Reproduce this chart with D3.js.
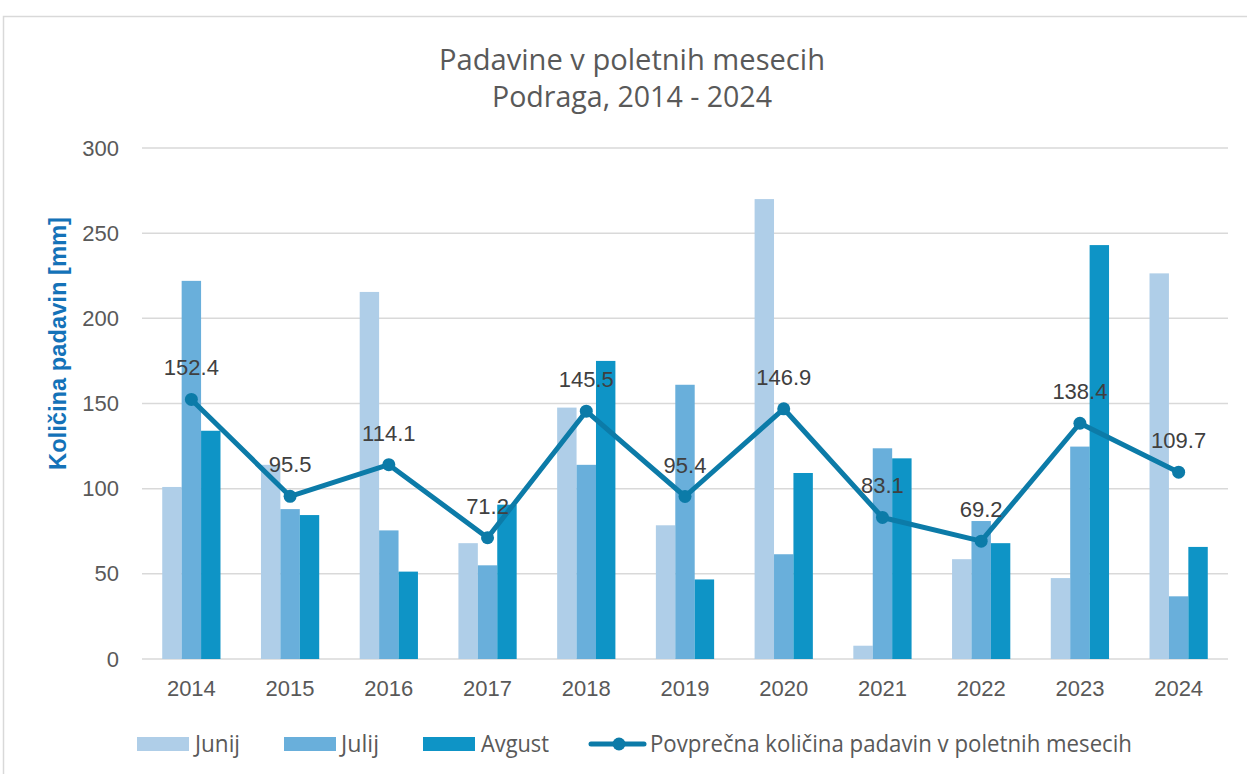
<!DOCTYPE html>
<html>
<head>
<meta charset="utf-8">
<script src="https://cdn.jsdelivr.net/npm/d3@7"></script>
<style>
  body { margin: 0; background: #fff; }
  svg { display: block; }
</style>
</head>
<body>
<div id="graph"></div>
<script>
// podatki
var years = ["2014", "2015", "2016", "2017", "2018", "2019", "2020", "2021", "2022", "2023", "2024"];
var junij = [101, 114, 215.5, 68, 147.6, 78.5, 270, 7.8, 58.6, 47.5, 226.4];
var julij = [222, 88, 75.5, 55, 114, 161, 61.5, 123.7, 81, 124.7, 36.8];
var avgust = [134, 84.5, 51.3, 90.6, 175, 46.7, 109.2, 117.8, 68, 243, 65.8];
var povprecje = [152.4, 95.5, 114.1, 71.2, 145.5, 95.4, 146.9, 83.1, 69.2, 138.4, 109.7];
var yTicks = [0, 50, 100, 150, 200, 250, 300];
var seriesNames = ["Junij", "Julij", "Avgust"];
var lineName = "Povprečna količina padavin v poletnih mesecih";

var colors = ["#afcee8", "#69afdb", "#0e94c6"];
var lineColor = "#0c7ba8";
var textColor = "#595959";
var axisFont = "'Liberation Sans', Arial, sans-serif";
var softFont = "'Open Sans', 'Noto Sans', sans-serif";

var svgWidth = 1247, svgHeight = 774;
var margin = { top: 148, right: 19, bottom: 115, left: 142 };
var width = svgWidth - margin.left - margin.right;
var height = svgHeight - margin.top - margin.bottom;

var svg = d3.select("#graph")
  .append("svg")
    .attr("width", svgWidth)
    .attr("height", svgHeight);

// okvir
svg.append("rect")
  .attr("x", 3.5).attr("y", 16.5)
  .attr("width", svgWidth + 10).attr("height", svgHeight)
  .attr("fill", "none")
  .attr("stroke", "#d9d9d9")
  .attr("stroke-width", 1.5);

// naslov
var title = svg.append("g")
  .attr("fill", textColor)
  .style("font-family", softFont)
  .style("font-size", "29px");
title.append("text")
  .attr("x", 439).attr("y", 70)
  .attr("textLength", 386).attr("lengthAdjust", "spacingAndGlyphs")
  .text("Padavine v poletnih mesecih");
title.append("text")
  .attr("x", 492).attr("y", 107)
  .attr("textLength", 280).attr("lengthAdjust", "spacingAndGlyphs")
  .text("Podraga, 2014 - 2024");

var g = svg.append("g")
  .attr("transform", "translate(" + margin.left + "," + margin.top + ")");

var x = d3.scaleBand()
  .domain(years)
  .range([0, width])
  .paddingInner(0.41)
  .paddingOuter(0.205);

var x1 = d3.scaleBand()
  .domain(seriesNames)
  .range([0, x.bandwidth()]);

var y = d3.scaleLinear()
  .domain([0, 300])
  .range([height, 0]);

// mreža
g.append("g")
  .selectAll("line")
  .data(yTicks)
  .enter().append("line")
    .attr("x1", 0).attr("x2", width)
    .attr("y1", function(d) { return y(d); })
    .attr("y2", function(d) { return y(d); })
    .attr("stroke", "#d9d9d9")
    .attr("stroke-width", 1.5);

// y os
var yAxis = g.append("g")
  .call(d3.axisLeft(y).tickValues(yTicks).tickSize(0).tickPadding(23));
yAxis.select(".domain").remove();
yAxis.selectAll("text")
  .attr("fill", textColor)
  .style("font-family", axisFont)
  .style("font-size", "22px");

// x os
var xAxis = g.append("g")
  .attr("transform", "translate(0," + height + ")")
  .call(d3.axisBottom(x).tickSize(0).tickPadding(21));
xAxis.select(".domain").remove();
xAxis.selectAll("text")
  .attr("fill", textColor)
  .style("font-family", axisFont)
  .style("font-size", "22px");

// naslov y osi
svg.append("text")
  .attr("transform", "translate(66,343.5) rotate(-90)")
  .attr("text-anchor", "middle")
  .attr("fill", "#1472b8")
  .style("font-family", axisFont)
  .style("font-weight", "bold")
  .style("font-size", "23px")
  .attr("textLength", 253).attr("lengthAdjust", "spacingAndGlyphs")
  .text("Količina padavin [mm]");

// stolpci
var seriesData = [junij, julij, avgust];
seriesData.forEach(function(values, i) {
  g.append("g")
    .selectAll("rect")
    .data(values)
    .enter().append("rect")
      .attr("x", function(d, j) { return x(years[j]) + x1(seriesNames[i]); })
      .attr("y", function(d) { return y(d); })
      .attr("width", x1.bandwidth())
      .attr("height", function(d) { return height - y(d); })
      .attr("fill", colors[i]);
});

// črta povprečja
var line = d3.line()
  .x(function(d, j) { return x(years[j]) + x.bandwidth() / 2; })
  .y(function(d) { return y(d); });

g.append("path")
  .datum(povprecje)
  .attr("fill", "none")
  .attr("stroke", lineColor)
  .attr("stroke-width", 5)
  .attr("stroke-linejoin", "round")
  .attr("d", line);

g.append("g")
  .selectAll("circle")
  .data(povprecje)
  .enter().append("circle")
    .attr("cx", function(d, j) { return x(years[j]) + x.bandwidth() / 2; })
    .attr("cy", function(d) { return y(d); })
    .attr("r", 6.5)
    .attr("fill", lineColor);

g.append("g")
  .selectAll("text")
  .data(povprecje)
  .enter().append("text")
    .attr("x", function(d, j) { return x(years[j]) + x.bandwidth() / 2; })
    .attr("y", function(d) { return y(d) - 24; })
    .attr("text-anchor", "middle")
    .attr("fill", "#404040")
    .style("font-family", axisFont)
    .style("font-size", "22px")
    .text(function(d) { return d.toFixed(1); });

// legenda
var legend = svg.append("g")
  .style("font-family", softFont)
  .style("font-size", "23px");
var legendItems = [
  { x: 137, tx: 195, tw: 45 },
  { x: 284, tx: 341, tw: 38 },
  { x: 423, tx: 481, tw: 68 }
];
seriesNames.forEach(function(name, i) {
  legend.append("rect")
    .attr("x", legendItems[i].x).attr("y", 737)
    .attr("width", 52).attr("height", 14)
    .attr("fill", colors[i]);
  legend.append("text")
    .attr("x", legendItems[i].tx).attr("y", 752)
    .attr("textLength", legendItems[i].tw).attr("lengthAdjust", "spacingAndGlyphs")
    .attr("fill", textColor)
    .text(name);
});
legend.append("line")
  .attr("x1", 591).attr("x2", 644)
  .attr("y1", 744).attr("y2", 744)
  .attr("stroke", lineColor)
  .attr("stroke-width", 5)
  .attr("stroke-linecap", "round");
legend.append("circle")
  .attr("cx", 619).attr("cy", 744).attr("r", 6.5)
  .attr("fill", lineColor);
legend.append("text")
  .attr("x", 650).attr("y", 752)
  .attr("textLength", 482).attr("lengthAdjust", "spacingAndGlyphs")
  .attr("fill", textColor)
  .text(lineName);
</script>
</body>
</html>
